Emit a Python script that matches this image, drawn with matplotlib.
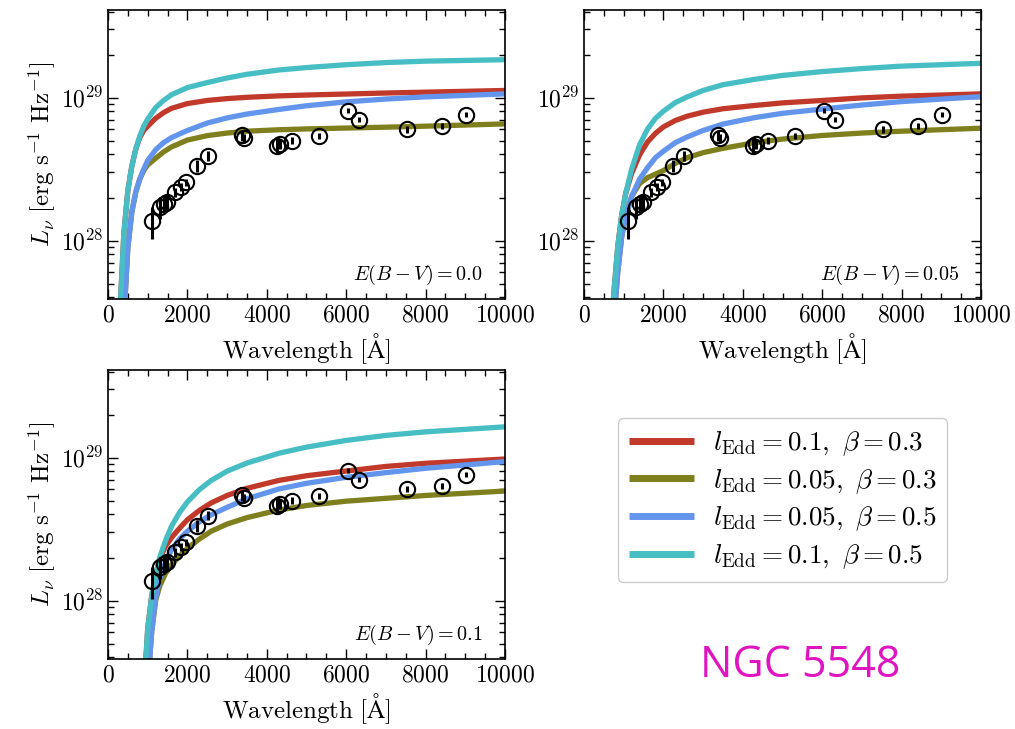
import matplotlib
matplotlib.use('Agg')
import matplotlib.pyplot as plt
import matplotlib.ticker as ticker
import numpy as np

plt.rcParams['font.family'] = 'cmr10'
plt.rcParams['mathtext.fontset'] = 'cm'
plt.rcParams['axes.formatter.use_mathtext'] = True

# Observed photometry (same in every panel)
obs_wl = [1100, 1310, 1400, 1480, 1690, 1850, 1960, 2230, 2530, 3380, 3420,
          4250, 4330, 4630, 5320, 6050, 6330, 7520, 8410, 9010]
obs_L = [1.38, 1.71, 1.80, 1.87, 2.18, 2.36, 2.56, 3.34, 3.93, 5.45, 5.20,
         4.60, 4.75, 5.00, 5.42, 8.10, 7.02, 6.00, 6.37, 7.60]   # 1e28
obs_err = [0.35, 0.30, 0.25, 0.20, 0.15, 0.15, 0.15, 0.30, 0.30, 0.50, 0.40,
           0.50, 0.40, 0.30, 0.25, 0.30, 0.30, 0.30, 0.30, 0.30]

# Model curves, log10 L_nu
# E(B-V) = 0.0
wl_0 = [300, 400, 500, 600, 700, 800, 900, 1000, 1200, 1400, 1600, 2000, 2500,
        3000, 3500, 4300, 5000, 6000, 7000, 8000, 10000]
red_0 = [27.5, 28.05, 28.35, 28.52, 28.64, 28.72, 28.77, 28.80, 28.855, 28.895, 28.925,
         28.958, 28.98, 28.993, 29.002, 29.012, 29.018, 29.025, 29.032, 29.038, 29.05]
olive_0 = [26.9, 27.45, 27.95, 28.2, 28.34, 28.43, 28.49, 28.53, 28.575, 28.62, 28.655,
           28.703, 28.734, 28.752, 28.765, 28.775, 28.781, 28.787, 28.793, 28.80, 28.816]
blue_0 = [26.9, 27.45, 27.95, 28.2, 28.34, 28.43, 28.50, 28.56, 28.635, 28.685, 28.72,
          28.77, 28.822, 28.858, 28.885, 28.917, 28.943, 28.97, 28.99, 29.005, 29.026]
cyan_0 = [27.5, 28.05, 28.35, 28.52, 28.64, 28.73, 28.80, 28.85, 28.93, 28.98, 29.02,
          29.07, 29.105, 29.137, 29.163, 29.193, 29.21, 29.23, 29.245, 29.255, 29.265]

# E(B-V) = 0.05
wl_1 = [650, 750, 850, 950, 1050, 1200, 1400, 1600, 1800, 2000, 2300, 2600, 3000,
        3500, 4300, 5000, 6000, 7000, 8000, 10000]
red_1 = [27.2, 27.63, 27.96, 28.18, 28.33, 28.47, 28.60, 28.69, 28.75, 28.795, 28.84,
         28.87, 28.898, 28.922, 28.945, 28.963, 28.98, 28.998, 29.01, 29.026]
olive_1 = [27.0, 27.43, 27.78, 28.03, 28.17, 28.31, 28.40, 28.44, 28.465, 28.49, 28.54,
           28.58, 28.615, 28.645, 28.685, 28.71, 28.735, 28.752, 28.765, 28.786]
blue_1 = [27.0, 27.43, 27.78, 28.03, 28.17, 28.31, 28.43, 28.51, 28.58, 28.625, 28.685,
          28.725, 28.77, 28.815, 28.86, 28.89, 28.92, 28.948, 28.972, 29.007]
cyan_1 = [27.2, 27.63, 27.96, 28.18, 28.33, 28.50, 28.67, 28.78, 28.855, 28.905, 28.965,
          29.005, 29.05, 29.09, 29.128, 29.155, 29.182, 29.203, 29.22, 29.24]

# E(B-V) = 0.1
wl_2 = [900, 1000, 1100, 1200, 1300, 1450, 1600, 1800, 2000, 2300, 2600, 3000, 3500,
        4300, 5000, 6000, 7000, 8000, 10000]
red_2 = [27.35, 27.8, 28.03, 28.18, 28.29, 28.38, 28.44, 28.505, 28.565, 28.63, 28.683,
         28.735, 28.785, 28.84, 28.873, 28.906, 28.938, 28.96, 28.99]
olive_2 = [26.9, 27.4, 27.78, 28.0, 28.1, 28.19, 28.25, 28.31, 28.365, 28.43, 28.485,
           28.535, 28.58, 28.633, 28.665, 28.695, 28.715, 28.735, 28.766]
blue_2 = [26.9, 27.4, 27.78, 28.02, 28.15, 28.27, 28.355, 28.43, 28.485, 28.55, 28.6,
          28.652, 28.712, 28.78, 28.82, 28.862, 28.895, 28.925, 28.972]
cyan_2 = [27.35, 27.8, 28.03, 28.18, 28.3, 28.42, 28.52, 28.615, 28.69, 28.775, 28.84,
          28.905, 28.962, 29.03, 29.073, 29.12, 29.155, 29.18, 29.215]

ebv_labels = ['0.0', '0.05', '0.1']
model_labels = [r'$l_{\rm Edd}=0.1,\ \beta=0.3$', r'$l_{\rm Edd}=0.05,\ \beta=0.3$',
                r'$l_{\rm Edd}=0.05,\ \beta=0.5$', r'$l_{\rm Edd}=0.1,\ \beta=0.5$']
colors = ['#c0392b', '#7f7f1e', '#6495ed', '#46bec4']

panels = [
    (wl_0, [red_0, olive_0, blue_0, cyan_0]),
    (wl_1, [red_1, olive_1, blue_1, cyan_1]),
    (wl_2, [red_2, olive_2, blue_2, cyan_2]),
]

fig = plt.figure(figsize=(10.15, 7.29), dpi=100)
positions = [[0.1064, 0.5898, 0.3911, 0.3965],
             [0.5754, 0.5898, 0.3911, 0.3965],
             [0.1064, 0.0960, 0.3911, 0.3965]]

handles = []
for i, (wl, curves) in enumerate(panels):
    ax = fig.add_axes(positions[i])
    for logL, c, lab in zip(curves, colors, model_labels):
        h, = ax.plot(wl, 10 ** np.array(logL), color=c, lw=3.8, label=lab,
                     solid_capstyle='butt', solid_joinstyle='round')
        if i == 0:
            handles.append(h)
    ax.errorbar(obs_wl, np.array(obs_L) * 1e28, yerr=np.array(obs_err) * 1e28,
                fmt='o', mfc='none', mec='black', ecolor='black', ms=11, mew=1.5,
                elinewidth=2.2, capsize=0, zorder=5)
    ax.set_yscale('log')
    ax.set_xlim(0, 10000)
    ax.set_ylim(3.9e27, 4.1e29)
    ax.xaxis.set_major_locator(ticker.MultipleLocator(2000))
    ax.xaxis.set_minor_locator(ticker.MultipleLocator(500))
    ax.yaxis.set_minor_formatter(ticker.NullFormatter())
    ax.tick_params(which='both', direction='in', top=True, right=True, labelsize=17)
    ax.tick_params(which='major', length=7, width=1)
    ax.tick_params(which='minor', length=4, width=1)
    for sp in ax.spines.values():
        sp.set_linewidth(1.2)
    ax.set_xlabel(r'$\mathrm{Wavelength}\ [\mathrm{\AA}]$', fontsize=18, labelpad=4)
    if i != 1:
        ax.set_ylabel(r'$L_\nu\ [\mathrm{erg\ s^{-1}\ Hz^{-1}}]$', fontsize=18, labelpad=2)
    ax.text(0.945, 0.04, r'$E(B-V)=' + ebv_labels[i] + '$', transform=ax.transAxes,
            ha='right', va='bottom', fontsize=14.5)

fig.legend(handles=handles, loc='center', bbox_to_anchor=(0.771, 0.314), fontsize=19.5,
           handlelength=2.4, labelspacing=0.33, handletextpad=0.7, borderpad=0.4,
           framealpha=1, edgecolor='#cccccc')
for line in fig.legends[0].get_lines():
    line.set_linewidth(5)

fig.text(0.788, 0.087, 'NGC 5548', color='#e014c0', fontsize=31, family='Open Sans',
         ha='center', va='center')

fig.savefig('out.png', dpi=100)
